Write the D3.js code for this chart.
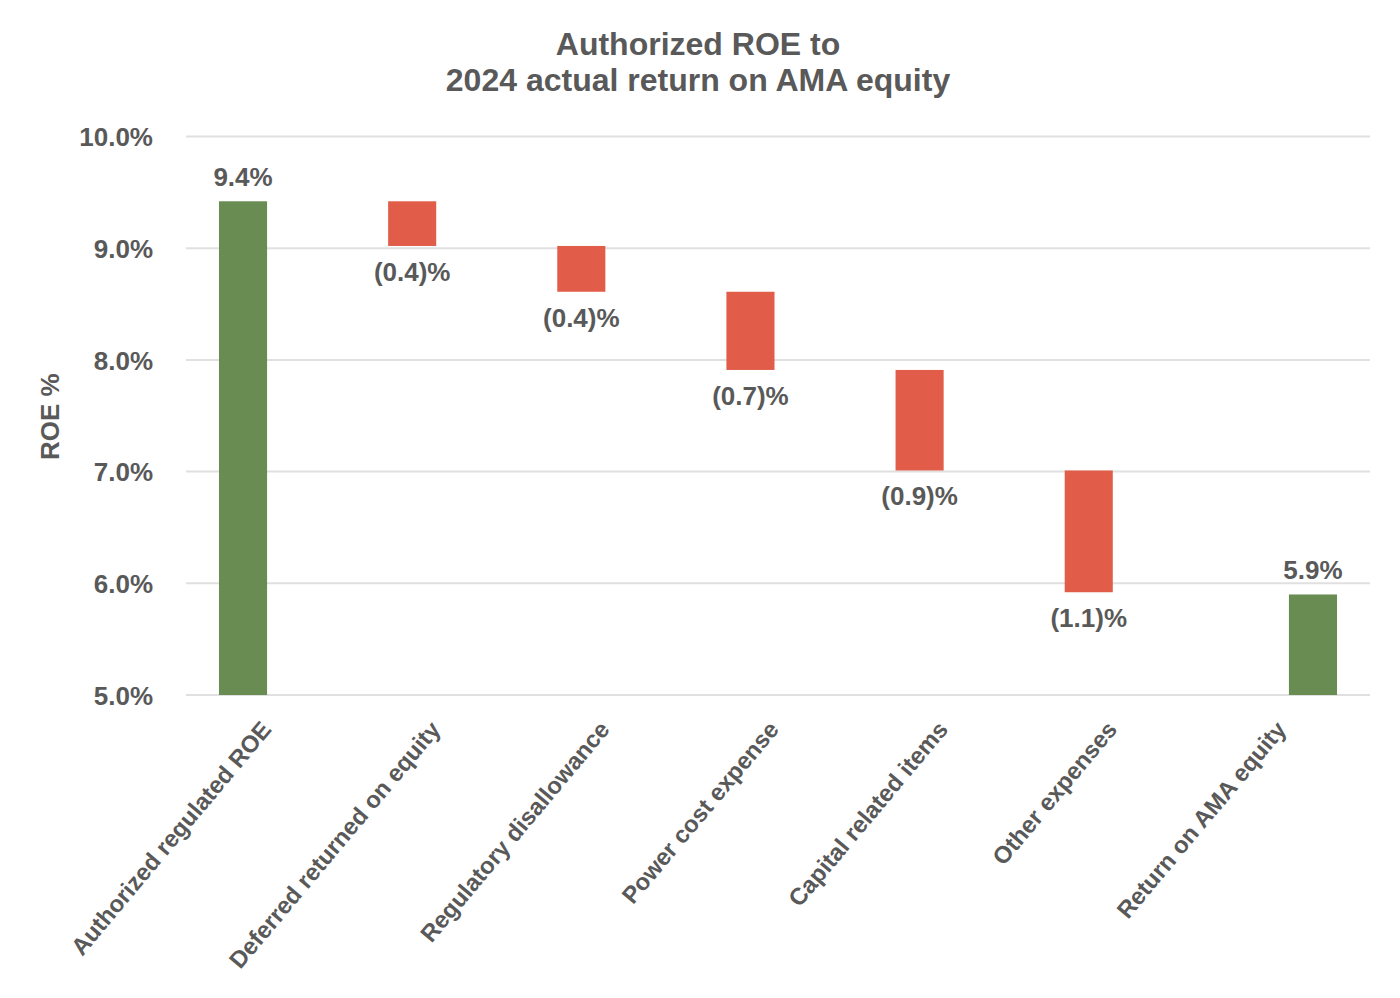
<!DOCTYPE html>
<html>
<head>
<meta charset="utf-8">
<script src="https://cdn.jsdelivr.net/npm/d3@7"></script>
<style>
  html, body { margin: 0; padding: 0; background: #ffffff; }
  svg text { font-family: "Liberation Sans", Arial, sans-serif; font-weight: bold; fill: #595959; }
</style>
</head>
<body>
<svg id="chart" width="1400" height="998"></svg>
<script>
// ---- data ----
const titleLines = ["Authorized ROE to", "2024 actual return on AMA equity"];
const yAxisTitle = "ROE %";
const categories = [
  "Authorized regulated ROE",
  "Deferred returned on equity",
  "Regulatory disallowance",
  "Power cost expense",
  "Capital related items",
  "Other expenses",
  "Return on AMA equity"
];
const startValue = 9.42;
const changes = [-0.40, -0.41, -0.70, -0.90, -1.09];
const endValue = 5.90;
const barSlots = ["a", "a", "a", "a", "a", "a", "b"];
const slotDomain = ["a", "b"];
const yDomain = [5, 10];
const yTicks = [5, 6, 7, 8, 9, 10];

// ---- build waterfall records ----
const records = [];
records.push({ cat: categories[0], kind: "total", y0: yDomain[0], y1: startValue, value: startValue });
let running = startValue;
changes.forEach((c, i) => {
  records.push({ cat: categories[i + 1], kind: "change", y0: running, y1: running + c, value: c });
  running += c;
});
records.push({ cat: categories[categories.length - 1], kind: "total", y0: yDomain[0], y1: endValue, value: endValue });
records.forEach((r, i) => r.slot = barSlots[i]);

// ---- layout ----
const svg = d3.select("#chart");
const plot = { left: 186, right: 1370, top: 136.5, bottom: 695 };
const colors = { total: "#688c51", change: "#e15d49", grid: "#e0e0e0" };

const x0 = d3.scaleBand().domain(categories).range([plot.left, plot.right])
  .paddingInner(0.39).paddingOuter(0.195);
const x1 = d3.scaleBand().domain(slotDomain).range([0, x0.bandwidth()]).paddingInner(0.127);
const y = d3.scaleLinear().domain(yDomain).range([plot.bottom, plot.top]);

const fmt = d3.format(".1f");
const labelText = r => r.kind === "total" ? fmt(r.value) + "%" : (r.value < 0 ? "(" + fmt(-r.value) + ")%" : fmt(r.value) + "%");

// title
svg.append("g").selectAll("text").data(titleLines).join("text")
  .attr("x", 698).attr("y", (d, i) => 55 + i * 36)
  .attr("text-anchor", "middle").style("font-size", "32px")
  .text(d => d);

// gridlines
svg.append("g").selectAll("line").data(yTicks).join("line")
  .attr("x1", plot.left).attr("x2", plot.right)
  .attr("y1", d => y(d)).attr("y2", d => y(d))
  .attr("stroke", colors.grid).attr("stroke-width", 2);

// y axis
const yAxis = d3.axisLeft(y).tickValues(yTicks).tickFormat(d => fmt(d) + "%").tickSize(0).tickPadding(33);
const yg = svg.append("g").attr("transform", `translate(${plot.left},0)`).call(yAxis);
yg.select(".domain").remove();
yg.selectAll("text").style("font-size", "26px").attr("dy", "0.36em").attr("fill", "#595959");

// y axis title
svg.append("text")
  .attr("transform", `translate(59,${(plot.top + plot.bottom) / 2 + 1}) rotate(-90)`)
  .attr("text-anchor", "middle").style("font-size", "26px")
  .text(yAxisTitle);

// x axis
const xAxis = d3.axisBottom(x0).tickSize(0).tickPadding(0);
const xg = svg.append("g").attr("transform", `translate(0,${plot.bottom})`).call(xAxis);
xg.select(".domain").remove();
xg.selectAll(".tick text")
  .attr("text-anchor", "end").attr("y", 0).attr("dy", 0)
  .attr("transform", "translate(2,35) rotate(-50)")
  .style("font-size", "23.8px").attr("fill", "#595959");

// bars
svg.append("g").selectAll("rect").data(records).join("rect")
  .attr("x", d => x0(d.cat) + x1(d.slot))
  .attr("width", x1.bandwidth())
  .attr("y", d => y(Math.max(d.y0, d.y1)))
  .attr("height", d => Math.abs(y(d.y0) - y(d.y1)))
  .attr("fill", d => d.kind === "total" ? colors.total : colors.change);

// data labels
svg.append("g").selectAll("text").data(records).join("text")
  .attr("x", d => x0(d.cat) + x1(d.slot) + x1.bandwidth() / 2)
  .attr("y", d => d.kind === "total" ? y(d.y1) - 15 : y(Math.min(d.y0, d.y1)) + 35)
  .attr("text-anchor", "middle").style("font-size", "26px")
  .text(labelText);
</script>
</body>
</html>
